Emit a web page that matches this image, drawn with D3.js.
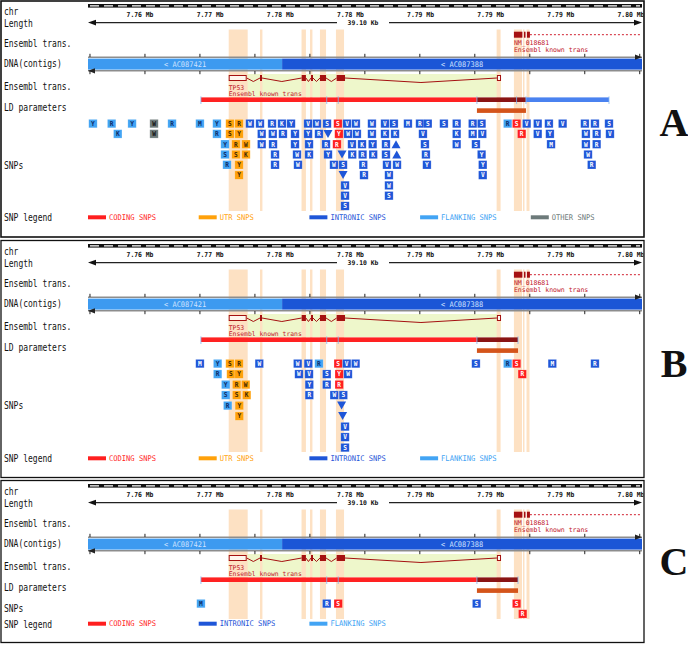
<!DOCTYPE html>
<html><head><meta charset="utf-8">
<script src="https://cdn.jsdelivr.net/npm/d3@7"></script>
<style>body{margin:0;background:#fff}svg{display:block}</style>
</head><body>
<svg id="c" width="688" height="645"></svg>
<script>
// ---------- data ----------
const trackLabels = ["chr","Length","Ensembl trans.","DNA(contigs)","Ensembl trans.","LD parameters"];
const rulerLabels = ["7.76 Mb","7.77 Mb","7.78 Mb","7.78 Mb","7.79 Mb","7.79 Mb","7.79 Mb","7.80 Mb"];
const rulerKb = [3.67,8.62,13.57,18.52,23.47,28.42,33.37,38.32];
const lengthLabel = "39.10 Kb";
const contigTickKb = [0.14,4.02,7.90,11.78,15.66,19.54,23.42,27.30,31.18,35.06,38.94];
const contigNames = ["< AC087421","< AC087388"];
const contigStartKb = [0,13.7];
const contigEndKb = [13.7,39.1];
const bandStartKb = [9.93,12.14,15.07,15.67,16.37,17.50,28.84,30.06,30.70,30.95];
const bandEndKb   = [11.27,12.31,15.38,15.84,16.80,18.07,29.12,30.63,30.80,31.16];
const tp53Start = [9.93,12.14,15.08,15.74,16.37,17.55,28.86];
const tp53End   = [11.20,12.28,15.38,15.88,16.80,18.14,29.15];
const tp53Utr   = [true,false,false,false,false,false,true];
const tp53Name = ["TP53","Ensembl known trans"];
const nmStart = [30.06,30.77,30.98];
const nmEnd   = [30.66,30.88,31.19];
const nmName = ["NM_018681","Ensembl known trans"];
const greenKb = [9.93,29.15];

const snpLegendText = {C:"CODING SNPS",U:"UTR SNPS",I:"INTRONIC SNPS",F:"FLANKING SNPS",O:"OTHER SNPS"};
const legendA = ["C","U","I","F","O"];
const legendB = ["C","U","I","F"];
const legendC = ["C","I","F"];

// LD bars: [startKb, endKb, kind]
const ldA = [[7.97,27.45,"r"],[27.45,30.91,"d"],[30.91,36.77,"b"]];
const ldB = [[7.97,27.45,"r"],[27.45,30.35,"d"]];
const ldC = [[7.97,27.45,"r"],[27.45,30.35,"d"]];
const ldLowA = [27.45,30.91];
const ldLowB = [27.45,30.35];
const ldLowC = [27.45,30.35];
const ldTicksA = [7.97,16.85,17.66,27.45,30.25,30.91,36.77];
const ldTicksB = [7.97,16.85,17.66,27.45,30.35];
const ldTicksC = [7.97,16.85,17.66,27.45,30.35];

// SNPs: [kb, allele code, type, stack row]   (v = down triangle, ^ = up triangle)
const snpsA = [
[0.35,"Y","F",0],[1.67,"R","F",0],[3.11,"Y","F",0],[4.66,"W","O",0],[5.93,"R","F",0],[7.90,"M","F",0],[9.10,"Y","F",0],
[10.02,"S","U",0],[10.66,"R","U",0],[11.43,"W","I",0],[12.14,"W","I",0],[12.99,"R","I",0],[13.69,"K","I",0],[14.33,"Y","I",0],
[15.53,"V","I",0],[16.16,"W","I",0],[16.87,"S","I",0],[17.64,"S","C",0],[18.28,"V","I",0],[18.91,"W","I",0],[20.04,"W","I",0],
[20.96,"V","I",0],[21.59,"S","I",0],[22.58,"M","I",0],[23.43,"R","I",0],[23.98,"S","I",0],[25.12,"S","I",0],[26.02,"R","I",0],
[27.15,"R","I",0],[27.78,"S","I",0],[29.62,"R","F",0],[30.25,"S","C",0],[30.96,"V","I",0],[31.74,"V","I",0],[32.53,"K","I",0],
[33.50,"V","I",0],[35.07,"R","I",0],[35.78,"R","I",0],[36.77,"S","I",0],
[2.10,"K","F",1],[4.66,"W","O",1],[9.10,"R","F",1],[10.02,"S","U",1],[10.66,"Y","U",1],[12.26,"W","I",1],[13.04,"W","I",1],
[13.76,"R","I",1],[14.61,"Y","I",1],[15.53,"Y","I",1],[16.30,"R","I",1],[16.94,"v","I",1],[17.71,"Y","C",1],[18.35,"W","I",1],
[18.98,"W","I",1],[20.04,"W","I",1],[20.96,"K","I",1],[21.67,"K","I",1],[23.64,"V","I",1],[26.02,"K","I",1],[27.15,"M","I",1],
[27.83,"V","I",1],[30.61,"R","C",1],[31.74,"V","I",1],[32.60,"Y","I",1],[35.14,"W","I",1],[35.90,"R","I",1],[36.84,"V","I",1],
[9.67,"Y","F",2],[10.44,"R","U",2],[11.15,"W","U",2],[12.26,"W","I",2],[13.06,"R","I",2],[14.61,"Y","I",2],[15.60,"Y","I",2],
[16.80,"R","I",2],[17.57,"R","C",2],[18.63,"V","I",2],[19.34,"K","I",2],[20.09,"Y","I",2],[21.03,"R","I",2],[21.74,"^","I",2],
[23.78,"S","I",2],[26.02,"W","I",2],[27.38,"S","I",2],[32.68,"M","I",2],[35.14,"W","I",2],[35.90,"R","I",2],
[9.67,"S","F",3],[10.44,"S","U",3],[11.15,"K","U",3],[13.20,"R","I",3],[14.75,"W","I",3],[15.60,"K","I",3],[16.94,"Y","I",3],
[17.93,"v","I",3],[18.65,"K","I",3],[19.38,"R","I",3],[20.13,"K","I",3],[21.03,"S","I",3],[21.79,"^","I",3],[23.85,"R","I",3],
[27.78,"Y","I",3],[35.29,"W","I",3],
[9.81,"R","F",4],[10.66,"Y","U",4],[13.20,"R","I",4],[14.82,"W","I",4],[17.36,"W","I",4],[18.00,"S","I",4],[19.43,"R","I",4],
[21.10,"V","I",4],[21.81,"W","I",4],[23.92,"Y","I",4],[27.86,"Y","I",4],[35.55,"R","I",4],
[10.66,"Y","U",5],[18.00,"v","I",5],[19.48,"R","I",5],[21.24,"W","I",5],[27.86,"V","I",5],
[18.14,"V","I",6],[21.24,"W","I",6],
[18.14,"V","I",7],[21.24,"S","I",7],
[18.14,"S","I",8]
];
const snpsB = [
[7.90,"M","I",0],[9.15,"Y","F",0],[10.02,"S","U",0],[10.66,"R","U",0],[12.09,"W","I",0],[14.80,"W","I",0],[15.55,"V","I",0],
[16.30,"R","F",0],[17.66,"S","C",0],[18.26,"V","I",0],[18.89,"W","I",0],[27.38,"S","I",0],[29.62,"R","F",0],[30.25,"S","C",0],
[32.77,"M","I",0],[35.78,"R","I",0],
[9.15,"R","F",1],[10.09,"S","U",1],[10.66,"Y","U",1],[14.89,"W","I",1],[15.60,"V","I",1],[16.85,"S","I",1],[17.73,"Y","C",1],
[18.35,"W","I",1],[30.65,"R","C",1],
[9.72,"Y","F",2],[10.49,"R","U",2],[11.13,"W","U",2],[15.62,"Y","I",2],[16.85,"R","I",2],[17.73,"R","C",2],
[9.72,"S","F",3],[10.49,"S","U",3],[11.20,"K","U",3],[15.62,"R","I",3],[17.38,"W","I",3],[18.02,"S","I",3],
[9.86,"R","F",4],[10.68,"Y","U",4],[17.90,"v","I",4],
[10.68,"Y","U",5],[17.97,"v","I",5],
[18.14,"V","I",6],[18.14,"V","I",7],[18.14,"S","I",8]
];
const snpsC = [
[7.97,"M","F",0],[16.85,"R","I",0],[17.66,"S","C",0],[27.43,"S","I",0],[30.25,"S","C",0],
[30.68,"R","C",1]
];

// ---------- drawing ----------
const svg = d3.select("#c");
const x = d3.scaleLinear().domain([0, 39.1]).range([88, 642]);
const col = {C:"#ff1f1f",U:"#ffa10a",I:"#1f56d8",F:"#42a4f4",O:"#6d7a7a"};
const letterCol = {C:"#ffffff",U:"#3b2600",I:"#ffffff",F:"#0b2a66",O:"#101010"};
const ldCol = {r:"#ff2222",d:"#8a1414",b:"#4a82f0"};
const mono = "'DejaVu Sans Mono','Liberation Mono',monospace";
const darkRed = "#a51010";
const geneTxt = "#c0182a";

function txt(g, xx, yy, s, size, color, o = {}) {
  return g.append("text")
    .attr("transform", `translate(${xx},${yy}) scale(1,${o.sy || 1})`)
    .attr("font-family", o.family || mono).attr("font-size", size)
    .attr("font-weight", o.bold ? "bold" : "normal")
    .attr("text-anchor", o.anchor || "start")
    .attr("dominant-baseline", "central")
    .attr("fill", color).text(s);
}

const panels = [
  {letter:"A", top:0,   h:236.5, snps:snpsA, legend:legendA, ld:ldA, ldLow:ldLowA, ldTicks:ldTicksA, bandBottom:211, snpLabelY:165, legendY:217.3, letterY:136, rowStep:10.3},
  {letter:"B", top:240, h:237,   snps:snpsB, legend:legendB, ld:ldB, ldLow:ldLowB, ldTicks:ldTicksB, bandBottom:212, snpLabelY:165, legendY:218.3, letterY:137, rowStep:10.5},
  {letter:"C", top:480, h:162,   snps:snpsC, legend:legendC, ld:ldC, ldLow:ldLowC, ldTicks:ldTicksC, bandBottom:139, snpLabelY:128, legendY:143.7, letterY:95, rowStep:10.3}
];
const trackLabelY = [11, 22.7, 42.7, 63.3, 86, 107.3];

svg.append("defs").append("clipPath").attr("id","pclip")
  .append("rect").attr("x",2).attr("y",0).attr("width",641.5).attr("height",645);

panels.forEach(p => {
  const g = svg.append("g").attr("transform", `translate(0,${p.top})`);
  const inner = g.append("g").attr("clip-path","url(#pclip)");

  // TP53 green area
  inner.append("rect").attr("x", x(greenKb[0])).attr("y", 74)
    .attr("width", x(greenKb[1]) - x(greenKb[0])).attr("height", 23).attr("fill", "#eef7cb");

  // exon highlight bands
  inner.selectAll("rect.band").data(bandStartKb).join("rect").attr("class","band")
    .attr("x", (d) => x(d)).attr("y", 29.5)
    .attr("width", (d,i) => Math.max(1.5, x(bandEndKb[i]) - x(d)))
    .attr("height", p.bandBottom - 29.5).attr("fill", "#fde1c3");

  // ruler
  inner.append("rect").attr("x", 88).attr("y", 4).attr("width", 554).attr("height", 3.6).attr("fill", "#111");
  inner.append("line").attr("x1", 90).attr("x2", 640).attr("y1", 5.8).attr("y2", 5.8)
    .attr("stroke", "#fff").attr("stroke-width", 1.3).attr("stroke-dasharray", "9,5");
  rulerLabels.forEach((s, i) => txt(inner, x(rulerKb[i]), 14.6, s, 6.4, "#111", {anchor:"middle", bold:true, sy:1.1}));

  // length arrow
  const ly = 22.6;
  inner.append("line").attr("x1", 94).attr("x2", 337).attr("y1", ly).attr("y2", ly).attr("stroke", "#222").attr("stroke-width", 1.2);
  inner.append("line").attr("x1", 389).attr("x2", 636).attr("y1", ly).attr("y2", ly).attr("stroke", "#222").attr("stroke-width", 1.2);
  inner.append("path").attr("d", `M88,${ly} L96,${ly-2.8} L96,${ly+2.8} Z`).attr("fill", "#111");
  inner.append("path").attr("d", `M642,${ly} L634,${ly-2.8} L634,${ly+2.8} Z`).attr("fill", "#111");
  txt(inner, 363, ly, lengthLabel, 6.4, "#111", {anchor:"middle", bold:true, sy:1.0});

  // NM_018681 gene (forward)
  const gy = 31.7;
  inner.append("line").attr("x1", x(nmEnd[nmEnd.length-1])).attr("x2", 641).attr("y1", gy+3).attr("y2", gy+3)
    .attr("stroke", "#d02030").attr("stroke-width", 1).attr("stroke-dasharray", "2,2");
  inner.selectAll("rect.nm").data(nmStart).join("rect").attr("class","nm")
    .attr("x", d => x(d)).attr("y", gy).attr("width", (d,i) => x(nmEnd[i]) - x(d)).attr("height", 6).attr("fill", darkRed);
  txt(inner, x(nmStart[0]), 43.4, nmName[0], 6.5, geneTxt);
  txt(inner, x(nmStart[0]), 50.2, nmName[1], 6.5, geneTxt);

  // contigs
  inner.append("line").attr("x1", 88).attr("x2", 642).attr("y1", 57.2).attr("y2", 57.2).attr("stroke", "#8d8d8d").attr("stroke-width", 1.6);
  inner.append("line").attr("x1", 88).attr("x2", 642).attr("y1", 70.8).attr("y2", 70.8).attr("stroke", "#8d8d8d").attr("stroke-width", 1.6);
  contigTickKb.forEach(k => {
    inner.append("line").attr("x1", x(k)).attr("x2", x(k)).attr("y1", 53.8).attr("y2", 57).attr("stroke", "#222");
    inner.append("line").attr("x1", x(k)).attr("x2", x(k)).attr("y1", 71).attr("y2", 74.2).attr("stroke", "#222");
  });
  const cCol = ["#3d9af0", "#1b56d6"];
  contigNames.forEach((nm, i) => {
    inner.append("rect").attr("x", x(contigStartKb[i])).attr("y", 58.6)
      .attr("width", x(contigEndKb[i]) - x(contigStartKb[i])).attr("height", 11).attr("fill", cCol[i]);
    txt(inner, (x(contigStartKb[i]) + x(contigEndKb[i])) / 2, 64.2, nm, 7, "#cfe2ff", {anchor:"middle", sy:1.1});
  });
  inner.append("path").attr("d", "M642,57.2 L635,54.6 L635,59.8 Z").attr("fill", "#222");
  inner.append("path").attr("d", "M88,70.8 L95,68.2 L95,73.4 Z").attr("fill", "#222");

  // TP53 transcript
  const ey = 75, eh = 6, ym = ey + eh / 2;
  for (let i = 0; i < tp53Start.length - 1; i++) {
    const a = x(tp53End[i]), b = x(tp53Start[i+1]);
    const dip = (b - a) > 60 ? 4.5 : 3.5;
    inner.append("polyline").attr("points", `${a},${ym} ${(a+b)/2},${ym+dip} ${b},${ym}`)
      .attr("fill", "none").attr("stroke", darkRed).attr("stroke-width", 1);
  }
  tp53Start.forEach((s, i) => {
    inner.append("rect").attr("x", x(s) + (tp53Utr[i] ? 0.5 : 0)).attr("y", ey + (tp53Utr[i] ? 0.5 : 0))
      .attr("width", Math.max(1.5, x(tp53End[i]) - x(s) - (tp53Utr[i] ? 1 : 0))).attr("height", eh - (tp53Utr[i] ? 1 : 0))
      .attr("fill", tp53Utr[i] ? "#fff7ee" : darkRed).attr("stroke", darkRed).attr("stroke-width", tp53Utr[i] ? 1 : 0);
  });
  txt(inner, x(tp53Start[0]), 87.6, tp53Name[0], 6.4, geneTxt);
  txt(inner, x(tp53Start[0]), 94.4, tp53Name[1], 6.4, geneTxt);

  // LD parameters
  p.ld.forEach(d => {
    inner.append("rect").attr("x", x(d[0])).attr("y", 97.4).attr("width", x(d[1]) - x(d[0])).attr("height", 4.6).attr("fill", ldCol[d[2]]);
  });
  p.ldTicks.forEach(k => {
    inner.append("line").attr("x1", x(k)).attr("x2", x(k)).attr("y1", 96.4).attr("y2", 104)
      .attr("stroke", "#7fb6f5").attr("stroke-width", 0.8);
  });
  inner.append("rect").attr("x", x(p.ldLow[0])).attr("y", 108.3).attr("width", x(p.ldLow[1]) - x(p.ldLow[0]))
    .attr("height", 4.6).attr("fill", "#d4541a");

  // SNPs
  const sg = inner.append("g");
  p.snps.forEach(d => {
    const cx = x(d[0]), cy = 123.6 + d[3] * p.rowStep;
    if (d[1] === "v" || d[1] === "^") {
      const up = d[1] === "^";
      const pts = up ? `${cx},${cy-4} ${cx-4.5},${cy+4} ${cx+4.5},${cy+4}` : `${cx-4.5},${cy-4} ${cx+4.5},${cy-4} ${cx},${cy+4}`;
      sg.append("polygon").attr("points", pts).attr("fill", col[d[2]]);
    } else {
      sg.append("rect").attr("x", cx - 4.2).attr("y", cy - 4.2).attr("width", 8.4).attr("height", 8.4)
        .attr("fill", col[d[2]]).attr("stroke", "#ffffff").attr("stroke-opacity", 0.35).attr("stroke-width", 0.6);
      txt(sg, cx, cy + 0.3, d[1], 6.2, letterCol[d[2]], {anchor:"middle", bold:true, sy:1.1});
    }
  });

  // track labels
  trackLabels.forEach((s, i) => txt(g, 4, trackLabelY[i], s, 8, "#111", {sy:1.3}));
  txt(g, 4, p.snpLabelY, "SNPs", 8, "#111", {sy:1.3});
  txt(g, 4, p.legendY, "SNP legend", 8, "#111", {sy:1.3});

  // legend
  p.legend.forEach((t, i) => {
    const lx = 88 + i * 110.7;
    g.append("rect").attr("x", lx).attr("y", p.legendY - 2).attr("width", 18).attr("height", 4).attr("fill", col[t]);
    txt(g, lx + 21, p.legendY, snpLegendText[t], 7.1, col[t], {sy:1.1});
  });

  // border
  g.append("rect").attr("x", 1).attr("y", p.letter === "A" ? 1 : 0.5).attr("width", 643)
    .attr("height", p.h - (p.letter === "A" ? 0.5 : 0)).attr("fill", "none").attr("stroke", "#111").attr("stroke-width", p.letter === "A" ? 1.6 : 1.3);

  // panel letter
  g.append("text").attr("x", 674).attr("y", p.letterY).attr("text-anchor", "middle")
    .attr("font-family", "'Liberation Serif','DejaVu Serif',serif").attr("font-weight", "bold")
    .attr("font-size", 40).attr("fill", "#111").text(p.letter);
});
</script>
</body></html>
